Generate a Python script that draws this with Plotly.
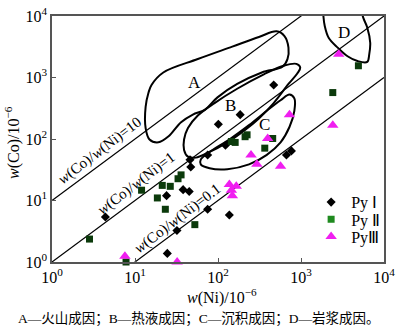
import numpy as np
import plotly.graph_objects as go

# ---------------- data (w(Ni), w(Co) in 10^-6) ----------------
py1_ni = [4.4, 24, 38, 45, 46, 47, 32, 24.5, 75, 137, 75, 101, 185, 123, 469, 668, 766]
py1_co = [5.4, 12, 15, 14, 46, 35, 3.26, 1.38, 7.2, 5.8, 55, 174, 249, 79, 757, 55, 64]

py2_ni = [2.83, 7.8, 12.0, 21.3, 26.6, 18.6, 23.2, 33.0, 35.9, 52.6, 145, 161, 212, 224, 366, 456, 2415, 4915]
py2_co = [2.36, 1.0, 14.7, 17.6, 17.0, 11.0, 7.2, 22.6, 26.1, 4.05, 91, 88, 109, 117, 71, 102, 569, 1552]

py3_ni = [7.56, 32.2, 137, 166, 145, 149, 250, 294, 567, 397, 726, 2415, 2845]
py3_co = [1.24, 1.0, 18.2, 17.0, 14.7, 11.9, 55, 38.7, 36, 102, 249, 168, 2385]

series_names = ["Py Ⅰ", "Py Ⅱ", "PyⅢ"]

ratios = [10, 1, 0.1]
ratio_labels = ["<i>w</i>(Co)/<i>w</i>(Ni)=10", "<i>w</i>(Co)/<i>w</i>(Ni)=1", "<i>w</i>(Co)/<i>w</i>(Ni)=0.1"]
ratio_label_pos = [(0.582, 1.805), (1.02, 1.275), (1.519, 0.70)]  # log10 Ni, log10 Co

# genetic fields, outlines in log10 units (Ni, Co)
regA_lx = [1.199, 1.341, 1.757, 2.172, 2.493, 2.706, 2.801, 2.849, 2.837, 2.777, 2.528, 2.231, 1.994, 1.840, 1.697, 1.555, 1.401, 1.282, 1.175, 1.128, 1.128, 1.163, 1.199]
regA_ly = [2.879, 3.082, 3.300, 3.502, 3.658, 3.751, 3.673, 3.486, 3.300, 3.175, 3.082, 2.895, 2.677, 2.475, 2.397, 2.272, 2.039, 1.946, 1.992, 2.179, 2.521, 2.755, 2.879]
regB_lx = [2.991, 2.944, 2.789, 2.552, 2.231, 1.958, 1.757, 1.638, 1.591, 1.591, 1.638, 1.733, 1.875, 2.113, 2.326, 2.493, 2.671, 2.849, 2.955, 2.991]
regB_ly = [3.160, 3.222, 3.191, 3.051, 2.817, 2.584, 2.381, 2.179, 1.992, 1.821, 1.712, 1.697, 1.774, 1.946, 2.148, 2.335, 2.584, 2.895, 3.066, 3.160]
regC_lx = [1.792, 1.899, 2.136, 2.374, 2.588, 2.754, 2.861, 2.920, 2.920, 2.861, 2.754, 2.588, 2.374, 2.113, 1.899, 1.792, 1.792]
regC_ly = [1.665, 1.790, 1.992, 2.226, 2.459, 2.630, 2.724, 2.661, 2.459, 2.195, 1.946, 1.743, 1.588, 1.510, 1.525, 1.588, 1.665]
regD_lx = [3.264, 3.270, 3.285, 3.335, 3.442, 3.561, 3.680, 3.798, 3.822, 3.834, 3.798, 3.751, 3.715]
regD_ly = [4.156, 4.000, 3.844, 3.642, 3.486, 3.346, 3.268, 3.253, 3.377, 3.564, 3.813, 3.969, 4.156]
region_names = ["A", "B", "C", "D"]
region_label_pos = [(1.721, 2.926), (2.148, 2.537), (2.564, 2.241), (3.513, 3.735)]

tick_vals = [1, 10, 100, 1000, 10000]
tick_text = ["10<sup>0</sup>", "10<sup>1</sup>", "10<sup>2</sup>", "10<sup>3</sup>", "10<sup>4</sup>"]

caption = "A—火山成因；B—热液成因；C—沉积成因；D—岩浆成因。"

SERIF = "Times New Roman, Liberation Serif, serif"
fig = go.Figure()

# ratio lines
for r in ratios:
    xs = [1, 10000]
    fig.add_trace(go.Scatter(x=xs, y=[r * v for v in xs], mode="lines",
                             line=dict(color="black", width=1.2), showlegend=False, hoverinfo="skip"))

# regions
for lx, ly in [(regA_lx, regA_ly), (regB_lx, regB_ly), (regC_lx, regC_ly), (regD_lx, regD_ly)]:
    fig.add_trace(go.Scatter(x=10 ** np.array(lx), y=10 ** np.array(ly), mode="lines",
                             line=dict(color="black", width=2, shape="spline", smoothing=1.0),
                             showlegend=False, hoverinfo="skip"))

# data points
fig.add_trace(go.Scatter(x=py1_ni, y=py1_co, mode="markers", name=series_names[0], legend="legend",
                         marker=dict(symbol="diamond", size=7, color="black"), cliponaxis=False))
fig.add_trace(go.Scatter(x=py2_ni, y=py2_co, mode="markers", name=series_names[1], showlegend=False,
                         marker=dict(symbol="square", size=7, color="#0b3a0b"), cliponaxis=False))
fig.add_trace(go.Scatter(x=[None], y=[None], mode="markers", name=series_names[1], legend="legend2",
                         marker=dict(symbol="square", size=7, color="#1f8a1f")))
fig.add_trace(go.Scatter(x=py3_ni, y=py3_co, mode="markers", name=series_names[2], legend="legend3",
                         marker=dict(symbol="triangle-up", size=10, color="#f01ef0"), cliponaxis=False))

ann = []
for (lx, ly), txt in zip(ratio_label_pos, ratio_labels):
    ann.append(dict(x=lx, y=ly, xref="x", yref="y", text=txt, showarrow=False, textangle=-37.3,
                    font=dict(family=SERIF, size=15, color="black")))
for (lx, ly), txt in zip(region_label_pos, region_names):
    ann.append(dict(x=lx, y=ly, xref="x", yref="y", text=txt, showarrow=False,
                    font=dict(family=SERIF, size=17, color="black")))
ann.append(dict(x=-0.119, y=0.486, xref="paper", yref="paper", text="<i>w</i>(Co)/10<sup>−6</sup>",
                xanchor="center", yanchor="middle",
                showarrow=False, textangle=-90, font=dict(family=SERIF, size=16, color="black")))
ann.append(dict(x=0.513, y=-0.140, xref="paper", yref="paper", text="<i>w</i>(Ni)/10<sup>−6</sup>",
                xanchor="center", yanchor="middle",
                showarrow=False, font=dict(family=SERIF, size=16, color="black")))
ann.append(dict(x=0.442, y=-0.233, xref="paper", yref="paper", text=caption, showarrow=False,
                xanchor="center", yanchor="middle",
                font=dict(family="Times New Roman, Liberation Serif, Noto Sans CJK SC", size=13.5, color="black")))

axis_common = dict(type="log", range=[0, 4], tickvals=tick_vals, ticktext=tick_text,
                   ticks="inside", ticklen=4, tickcolor="#555", showline=True, linecolor="#555",
                   linewidth=1.5, mirror=True, showgrid=False, zeroline=False,
                   ticklabeloverflow="allow",
                   tickfont=dict(family=SERIF, size=16, color="black"))

leg_common = dict(x=0.7805, xanchor="left", yanchor="middle", bgcolor="rgba(0,0,0,0)",
                  font=dict(family=SERIF, size=16, color="black"), itemwidth=30)

fig.update_layout(
    width=400, height=335, autosize=False,
    margin=dict(l=52, r=11, t=5, b=73),
    paper_bgcolor="white", plot_bgcolor="white",
    xaxis=axis_common, yaxis=axis_common,
    annotations=ann,
    legend=dict(leg_common, y=0.243),
    legend2=dict(leg_common, y=0.173),
    legend3=dict(leg_common, y=0.103),
)

fig.write_html("out.html")
